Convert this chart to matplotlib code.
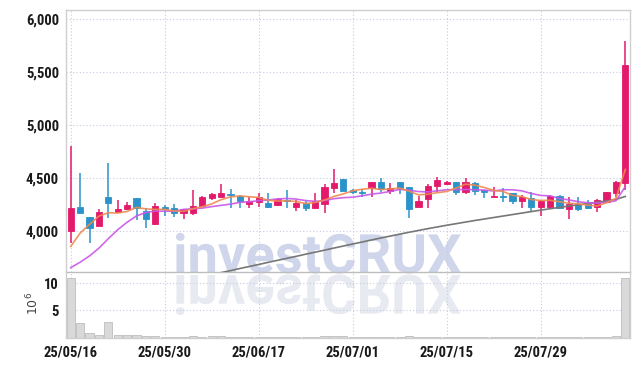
import matplotlib
matplotlib.use("Agg")
import matplotlib.pyplot as plt
import numpy as np
import pandas as pd
from matplotlib.textpath import TextPath
from matplotlib.patches import PathPatch
from matplotlib.font_manager import FontProperties, findfont
from matplotlib.transforms import Affine2D

# trading days shown (yy/mm/dd)
dates = ["25/05/16", "25/05/19", "25/05/20", "25/05/21", "25/05/22", "25/05/23",
         "25/05/26", "25/05/27", "25/05/28", "25/05/29", "25/05/30", "25/06/02",
         "25/06/04", "25/06/05", "25/06/09", "25/06/10", "25/06/11", "25/06/12",
         "25/06/13", "25/06/16", "25/06/17", "25/06/18", "25/06/19", "25/06/20",
         "25/06/23", "25/06/24", "25/06/25", "25/06/26", "25/06/27", "25/06/30",
         "25/07/01", "25/07/02", "25/07/03", "25/07/04", "25/07/07", "25/07/08",
         "25/07/09", "25/07/10", "25/07/11", "25/07/14", "25/07/15", "25/07/16",
         "25/07/17", "25/07/18", "25/07/21", "25/07/22", "25/07/23", "25/07/24",
         "25/07/25", "25/07/28", "25/07/29", "25/07/30", "25/07/31", "25/08/01",
         "25/08/04", "25/08/05", "25/08/06", "25/08/07", "25/08/08", "25/08/11"]

opens = [4000, 4225, 4130, 4050, 4320, 4182, 4207, 4308, 4190, 4070,
         4230, 4217, 4167, 4174, 4240, 4315, 4324, 4349, 4333, 4255,
         4277, 4261, 4245, 4295, 4230, 4268, 4220, 4255, 4409, 4487,
         4387, 4371, 4409, 4459, 4380, 4459, 4412, 4230, 4299, 4424,
         4440, 4459, 4371, 4450, 4387, 4318, 4326, 4356, 4283, 4315,
         4230, 4230, 4330, 4204, 4255, 4261, 4223, 4277, 4362, 4456]
highs = [4800, 4550, 4135, 4205, 4640, 4292, 4277, 4310, 4215, 4260,
         4245, 4250, 4210, 4387, 4330, 4355, 4440, 4396, 4335, 4324,
         4362, 4356, 4310, 4387, 4292, 4285, 4362, 4440, 4582, 4490,
         4395, 4396, 4465, 4503, 4450, 4462, 4415, 4330, 4443, 4506,
         4470, 4462, 4497, 4460, 4390, 4418, 4409, 4360, 4335, 4365,
         4290, 4340, 4340, 4324, 4324, 4292, 4300, 4370, 4470, 5795]
lows = [3890, 4165, 3890, 4045, 4120, 4175, 4200, 4100, 4025, 4060,
        4140, 4130, 4110, 4150, 4235, 4290, 4320, 4220, 4215, 4217,
        4230, 4220, 4240, 4214, 4190, 4192, 4215, 4174, 4356, 4375,
        4345, 4318, 4318, 4370, 4349, 4346, 4120, 4225, 4214, 4368,
        4435, 4340, 4346, 4340, 4308, 4318, 4277, 4250, 4214, 4192,
        4141, 4210, 4205, 4110, 4192, 4207, 4182, 4270, 4324, 4387]
closes = [4220, 4170, 4030, 4180, 4260, 4207, 4245, 4220, 4110, 4235,
          4210, 4167, 4204, 4236, 4324, 4349, 4362, 4336, 4283, 4283,
          4318, 4230, 4300, 4285, 4261, 4214, 4286, 4412, 4456, 4380,
          4365, 4356, 4459, 4393, 4409, 4409, 4207, 4286, 4424, 4481,
          4465, 4371, 4465, 4380, 4371, 4326, 4320, 4283, 4324, 4230,
          4283, 4330, 4214, 4252, 4204, 4220, 4292, 4365, 4459, 5566]
# closes before the window, needed for the short moving averages
prior_closes = [3656, 3436, 3446, 3366, 3363, 3540, 3620, 3790, 4100]

# 60-day moving average (below the visible range before 06/11)
ma60 = [np.nan] * 16 + [3607, 3626, 3646, 3665, 3684, 3704, 3723, 3742, 3761, 3781,
                        3800, 3819, 3839, 3858, 3877, 3896, 3915, 3934, 3952, 3970,
                        3988, 4005, 4022, 4038, 4054, 4069, 4084, 4099, 4113, 4127,
                        4141, 4155, 4169, 4183, 4197, 4210, 4223, 4235, 4247, 4259,
                        4271, 4284, 4298, 4326]

# volume in millions of shares
volume = [11.05, 2.6, 0.87, 0.55, 2.9, 0.55, 0.37, 0.5, 0.35, 0.3,
          0.15, 0.12, 0.1, 0.25, 0.15, 0.2, 0.25, 0.12, 0.1, 0.08,
          0.1, 0.1, 0.08, 0.12, 0.08, 0.08, 0.12, 0.3, 0.35, 0.25,
          0.1, 0.08, 0.1, 0.1, 0.08, 0.1, 0.3, 0.1, 0.15, 0.12,
          0.1, 0.1, 0.15, 0.1, 0.08, 0.05, 0.06, 0.08, 0.07, 0.09,
          0.1, 0.1, 0.08, 0.12, 0.08, 0.07, 0.08, 0.15, 0.3, 11.05]

price_ticks = [4000, 4500, 5000, 5500, 6000]
vol_ticks = [5, 10]

UP = "#e3196b"
DOWN = "#2b93c9"
GRID = "#c6cbe0"
FRAME = "#cfcfcf"
LABEL_FONT = ["Roboto Condensed", "Barlow Semi Condensed", "DejaVu Sans"]

x = np.arange(len(closes))
o = np.array(opens)
c = np.array(closes)
colors = [UP if cc >= oo else DOWN for oo, cc in zip(o, c)]

all_closes = pd.Series(prior_closes + closes, dtype=float)
n_prior = len(prior_closes)
ma5 = all_closes.rolling(5).mean().iloc[n_prior:].to_numpy()
ma10 = all_closes.rolling(10).mean().iloc[n_prior:].to_numpy()

fig = plt.figure(figsize=(6.39, 3.66), dpi=100)
fig.patch.set_facecolor("white")
ax = fig.add_axes([66 / 639, 94 / 366, 564 / 639, 262 / 366])
axv = fig.add_axes([66 / 639, 28.5 / 366, 564 / 639, 65.5 / 366], sharex=ax)
for a in (ax, axv):
    a.set_facecolor("none")

# watermark with its reflection
fp = FontProperties(fname=findfont(FontProperties(family="Roboto", weight="bold")))
tp = TextPath((0, 0), "investCRUX", size=1, prop=fp)
ext = tp.get_extents()
em = 285 / ext.width
base_x, base_y = 176 - ext.x0 * em, 366 - 273
wm = PathPatch(tp, facecolor="#cfd5ea", edgecolor="none", zorder=-2,
               transform=Affine2D().scale(em, em).translate(base_x, base_y))
wm_ref = PathPatch(tp, facecolor="#e8eaf2", edgecolor="none", zorder=-3,
                   transform=Affine2D().scale(em, -em).translate(base_x, base_y - 2))
fig.add_artist(wm_ref)
fig.add_artist(wm)

# candles
ax.vlines(x, lows, highs, colors=colors, linewidth=1.1, zorder=2)
ax.bar(x, np.maximum(np.abs(c - o), 4), bottom=np.minimum(o, c), width=0.66,
       color=colors, edgecolor=colors, linewidth=0.6, zorder=3)

ax.plot(x, ma60, color="#777777", linewidth=1.2, zorder=4)
ax.plot(x, ma10, color="#c957e8", linewidth=1.2, alpha=0.9, zorder=4)
ax.plot(x, ma5, color="#ef8a50", linewidth=1.2, alpha=0.9, zorder=5)

ax.set_xlim(-0.5, len(closes) - 0.5)
ax.set_ylim(3613, 6085)
ax.set_yticks(price_ticks)
ax.set_yticklabels([f"{v:,}" for v in price_ticks])

# volume
axv.bar(x, volume, width=0.88, color="#d9d9d9", edgecolor="#bdbdbd", linewidth=0.6, zorder=2)
axv.set_ylim(0, 12.1)
axv.set_yticks(vol_ticks)
axv.set_yticklabels([str(v) for v in vol_ticks])

tick_idx = list(range(0, len(dates), 10))
axv.set_xticks(tick_idx)
axv.set_xticklabels([dates[i] for i in tick_idx])
plt.setp(ax.get_xticklabels(), visible=False)

for a in (ax, axv):
    a.grid(True, color=GRID, linestyle=(0, (1, 2)), linewidth=0.8)
    a.set_axisbelow(True)
    a.tick_params(length=0, pad=5, labelsize=10.5, labelcolor="#1a1a1a")
    for lab in a.get_yticklabels() + a.get_xticklabels():
        lab.set_family(LABEL_FONT)
        lab.set_fontweight("bold")
    for s in a.spines.values():
        s.set_color(FRAME)
        s.set_linewidth(1.0)
axv.tick_params(axis="x", pad=6)
ax.spines["bottom"].set_color("#bdbdbd")
axv.spines["top"].set_visible(False)

fig.text(33 / 639, 1 - 303 / 366, r"$10^6$", rotation=90, ha="center", va="center",
         fontsize=9, color="#444444")

fig.savefig("out.png", dpi=100)
